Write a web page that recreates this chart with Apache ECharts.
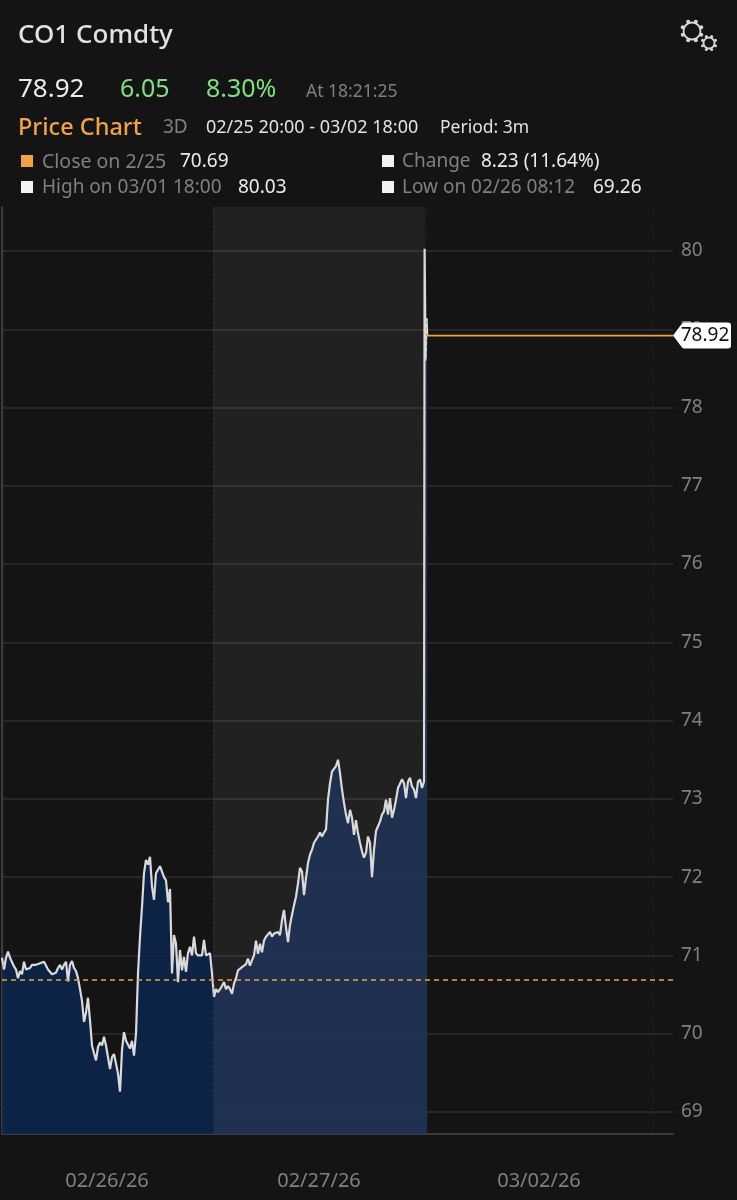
<!DOCTYPE html>
<html>
<head>
<meta charset="utf-8">
<style>
html, body { margin: 0; padding: 0; background: #141414; }
#chart { width: 737px; height: 1200px; }
</style>
<script src="https://cdn.jsdelivr.net/npm/echarts@6/dist/echarts.min.js"></script>
</head>
<body>
<div id="chart"></div>
<script>
// closes, one sample per 2px
var closesFeb26 = [
    70.97, 70.82, 70.97, 71.05, 70.97, 70.95, 70.86, 70.82, 70.71, 70.8,
    70.76, 70.92, 70.82, 70.82, 70.84, 70.88, 70.9, 70.88, 70.88, 70.9,
    70.88, 70.92, 70.9, 70.82, 70.8, 70.76, 70.74, 70.78, 70.84, 70.88,
    70.82, 70.88, 70.92, 70.67, 70.88, 70.93, 70.84, 70.8, 70.71, 70.57,
    70.42, 70.15, 70.27, 70.46, 70.17, 69.85, 69.75, 69.66, 69.83, 69.89,
    69.85, 69.96, 69.85, 69.87, 69.55, 69.7, 69.74, 69.62, 69.49, 69.26,
    69.79, 70.02, 69.91, 69.89, 69.81, 69.91, 69.72, 70.0, 70.77, 71.24,
    71.62, 72.05, 72.22, 72.16, 72.26, 71.88, 71.71, 72.05, 72.05, 72.14,
    72.12, 72.0, 71.96, 71.68, 71.85, 70.77, 71.26, 71.15, 70.66, 71.07,
    70.81, 70.98, 70.79, 71.03, 71.11, 71.0, 71.24, 71.03, 71.0, 70.98,
    71.0, 71.2, 71.0, 71.0, 71.03, 70.77
];
var closesFeb27 = [
    70.47, 70.57, 70.53, 70.57, 70.61, 70.66, 70.57, 70.61, 70.57, 70.51,
    70.64, 70.71, 70.81, 70.83, 70.85, 70.87, 70.89, 70.96, 70.87, 70.94,
    71.0, 71.19, 71.02, 71.15, 71.04, 71.19, 71.24, 71.26, 71.3, 71.24,
    71.28, 71.26, 71.3, 71.26, 71.45, 71.58, 71.36, 71.17, 71.39, 71.52,
    71.64, 71.75, 71.92, 72.12, 72.07, 71.77, 71.99, 72.18, 72.29, 72.35,
    72.44, 72.46, 72.52, 72.57, 72.52, 72.57, 72.61, 72.99, 73.2, 73.35,
    73.36, 73.42, 73.5, 73.33, 73.12, 72.95, 72.8, 72.69, 72.86, 72.76,
    72.54, 72.73, 72.56, 72.44, 72.33, 72.25, 72.31, 72.52, 72.44, 72.0,
    72.35, 72.59, 72.65, 72.71, 72.8, 72.84, 72.99, 72.8, 73.01, 72.76,
    72.86, 72.99, 73.14, 73.12, 73.25, 73.2, 73.01, 73.22, 73.27, 73.16,
    73.12, 73.01, 73.22, 73.25, 73.14, 73.22
];
var spikeX = [211.3, 211.8, 212.3, 212.6];
var spikeValues = [80.03, 78.6, 79.14, 78.92];

var lastPrice = 78.92;
var priorClose = 70.69;
var yTicks = [69, 70, 71, 72, 73, 74, 75, 76, 77, 78, 79, 80];
var dateLabels = ['02/26/26', '02/27/26', '03/02/26'];
var dateLabelX = [52.5, 158.5, 268.5];
var sessionEdges = [0.5, 105.5, 212, 325.5];

var FONT = '"Noto Sans", sans-serif';
var GREY = '#808080';
var xMax = 335.5;

var chart = echarts.init(document.getElementById('chart'));

function toPoints(values, start) {
    let out = [];
    for (let i = 0; i < values.length; i++) {
        out.push([start + i, values[i]]);
    }
    return out;
}

function spikePoints() {
    let out = [];
    for (let i = 0; i < spikeX.length; i++) {
        out.push([spikeX[i], spikeValues[i]]);
    }
    return out;
}

function label(text, x, y, color, size, weight) {
    return {
        type: 'text', x: x, y: y, silent: true,
        style: { text: text, fill: color, font: (weight || 'normal') + ' ' + size + 'px ' + FONT, textVerticalAlign: 'middle' }
    };
}

function square(x, y, color) {
    return { type: 'rect', silent: true, shape: { x: x, y: y, width: 12, height: 12 }, style: { fill: color } };
}

// ring with small round teeth
function gear(cx, cy, r, tooth) {
    let parts = [{
        type: 'circle', silent: true, shape: { cx: cx, cy: cy, r: r },
        style: { fill: 'none', stroke: '#d8d8d8', lineWidth: 1.8 }
    }];
    for (let i = 0; i < 8; i++) {
        let a = i * Math.PI / 4 + Math.PI / 8;
        parts.push({
            type: 'circle', silent: true,
            shape: { cx: cx + Math.cos(a) * (r + 1.5), cy: cy + Math.sin(a) * (r + 1.5), r: tooth },
            style: { fill: '#d8d8d8' }
        });
    }
    return parts;
}

var febFirst = toPoints(closesFeb26, 0);
var febSecond = toPoints(closesFeb27, 106);
var dayTwoFill = febSecond.concat(spikePoints());
var dayOneFill = febFirst.concat([febSecond[0]]);
var allPoints = febFirst.concat(dayTwoFill);

var header = [
    label('CO1 Comdty', 18, 36, '#e2e2e2', 26, 500),
    label('78.92', 18, 90, '#ececec', 26),
    label('6.05', 120, 90, '#7fe07f', 25),
    label('8.30%', 206, 90, '#7fe07f', 25),
    label('At 18:21:25', 306, 92, GREY, 17.5),
    label('Price Chart', 18, 128, '#f0a245', 23.5, 500),
    label('3D', 163, 128, GREY, 19),
    label('02/25 20:00 - 03/02 18:00', 206, 128, '#e2e2e2', 18),
    label('Period: 3m', 440, 128, '#e2e2e2', 17.5),
    square(21, 155, '#f0a245'),
    label('Close on 2/25', 42, 162, GREY, 19.5),
    label('70.69', 180, 162, '#ececec', 19),
    square(382, 155, '#f2f2f2'),
    label('Change', 402, 162, GREY, 19),
    label('8.23 (11.64%)', 481, 162, '#ececec', 19),
    square(21, 181, '#f2f2f2'),
    label('High on 03/01 18:00', 42, 188, GREY, 19),
    label('80.03', 238, 188, '#ececec', 19),
    square(382, 181, '#f2f2f2'),
    label('Low on 02/26 08:12', 402, 188, GREY, 19),
    label('69.26', 593, 188, '#ececec', 19)
].concat(gear(692, 31, 8.5, 2), gear(709, 43, 5.5, 1.5));

var option = {
    backgroundColor: '#141414',
    animation: false,
    textStyle: { fontFamily: FONT },
    graphic: header,
    grid: { left: 2, right: 64, top: 207, bottom: 66 },
    xAxis: {
        type: 'value', min: 0, max: xMax,
        axisLine: { show: true, onZero: false, lineStyle: { color: '#484848', width: 1.5 } },
        axisTick: { show: false },
        splitLine: { show: false },
        axisLabel: {
            customValues: dateLabelX,
            margin: 37, color: GREY, fontSize: 20, fontFamily: FONT,
            formatter: function (value) {
                return dateLabels[dateLabelX.indexOf(value)];
            }
        }
    },
    yAxis: {
        type: 'value', position: 'right', min: 68.719, max: 80.562,
        axisLine: { show: true, lineStyle: { color: '#484848', width: 1.5 } },
        axisTick: { show: false, customValues: yTicks },
        splitLine: { show: true, lineStyle: { color: '#2e2e2e', width: 1.5 } },
        axisLabel: {
            customValues: yTicks,
            margin: 8, color: GREY, fontSize: 19, fontFamily: FONT,
            padding: [0, 0, 3, 0]
        }
    },
    series: [
        {
            name: 'Feb 26 fill', type: 'line', data: dayOneFill, z: 2, symbol: 'none', silent: true,
            lineStyle: { width: 0 }, areaStyle: { color: 'rgb(12,37,77)', origin: 'start', opacity: 0.88 },
            markArea: {
                silent: true,
                itemStyle: { color: 'rgba(255,255,255,0.06)' },
                data: [[{ xAxis: sessionEdges[1] }, { xAxis: 211.5 }]]
            }
        },
        {
            name: 'Feb 27 fill', type: 'line', data: dayTwoFill, z: 2, symbol: 'none', silent: true,
            lineStyle: { width: 0 }, areaStyle: { color: 'rgb(31,50,86)', origin: 'start', opacity: 0.88 }
        },
        {
            name: 'CO1 Comdty', type: 'line', data: allPoints, z: 3, symbol: 'none', silent: true,
            lineStyle: { color: '#dadada', width: 2.2 },
            markLine: {
                silent: true, symbol: 'none', precision: 2,
                label: { show: false },
                data: [
                    { yAxis: priorClose, lineStyle: { color: '#f0a245', type: [5, 4], width: 1.7 } }
                ].concat(sessionEdges.map(function (v) {
                    return { xAxis: v, lineStyle: { color: 'rgba(70,70,70,0.3)', type: [3, 3], width: 1 } };
                }))
            }
        },
        {
            name: 'Last', type: 'line', z: 4, symbol: 'none', silent: true,
            data: [[spikeX[3], lastPrice], [xMax, lastPrice]],
            lineStyle: { color: '#f0a245', width: 1.8 },
            clip: false,
            markPoint: {
                silent: true, z: 10,
                symbol: 'path://M0 13 L9 1 Q10 0 11 0 L55 0 Q58 0 58 3 L58 23 Q58 26 55 26 L11 26 Q10 26 9 25 Z',
                symbolSize: [58, 26],
                symbolOffset: [29, 0],
                itemStyle: { color: '#ffffff' },
                label: { show: true, formatter: '78.92', color: '#111111', fontSize: 19, fontFamily: FONT, offset: [3, 0] },
                data: [{ coord: [xMax, lastPrice] }]
            }
        }
    ]
};
chart.setOption(option);
</script>
</body>
</html>
